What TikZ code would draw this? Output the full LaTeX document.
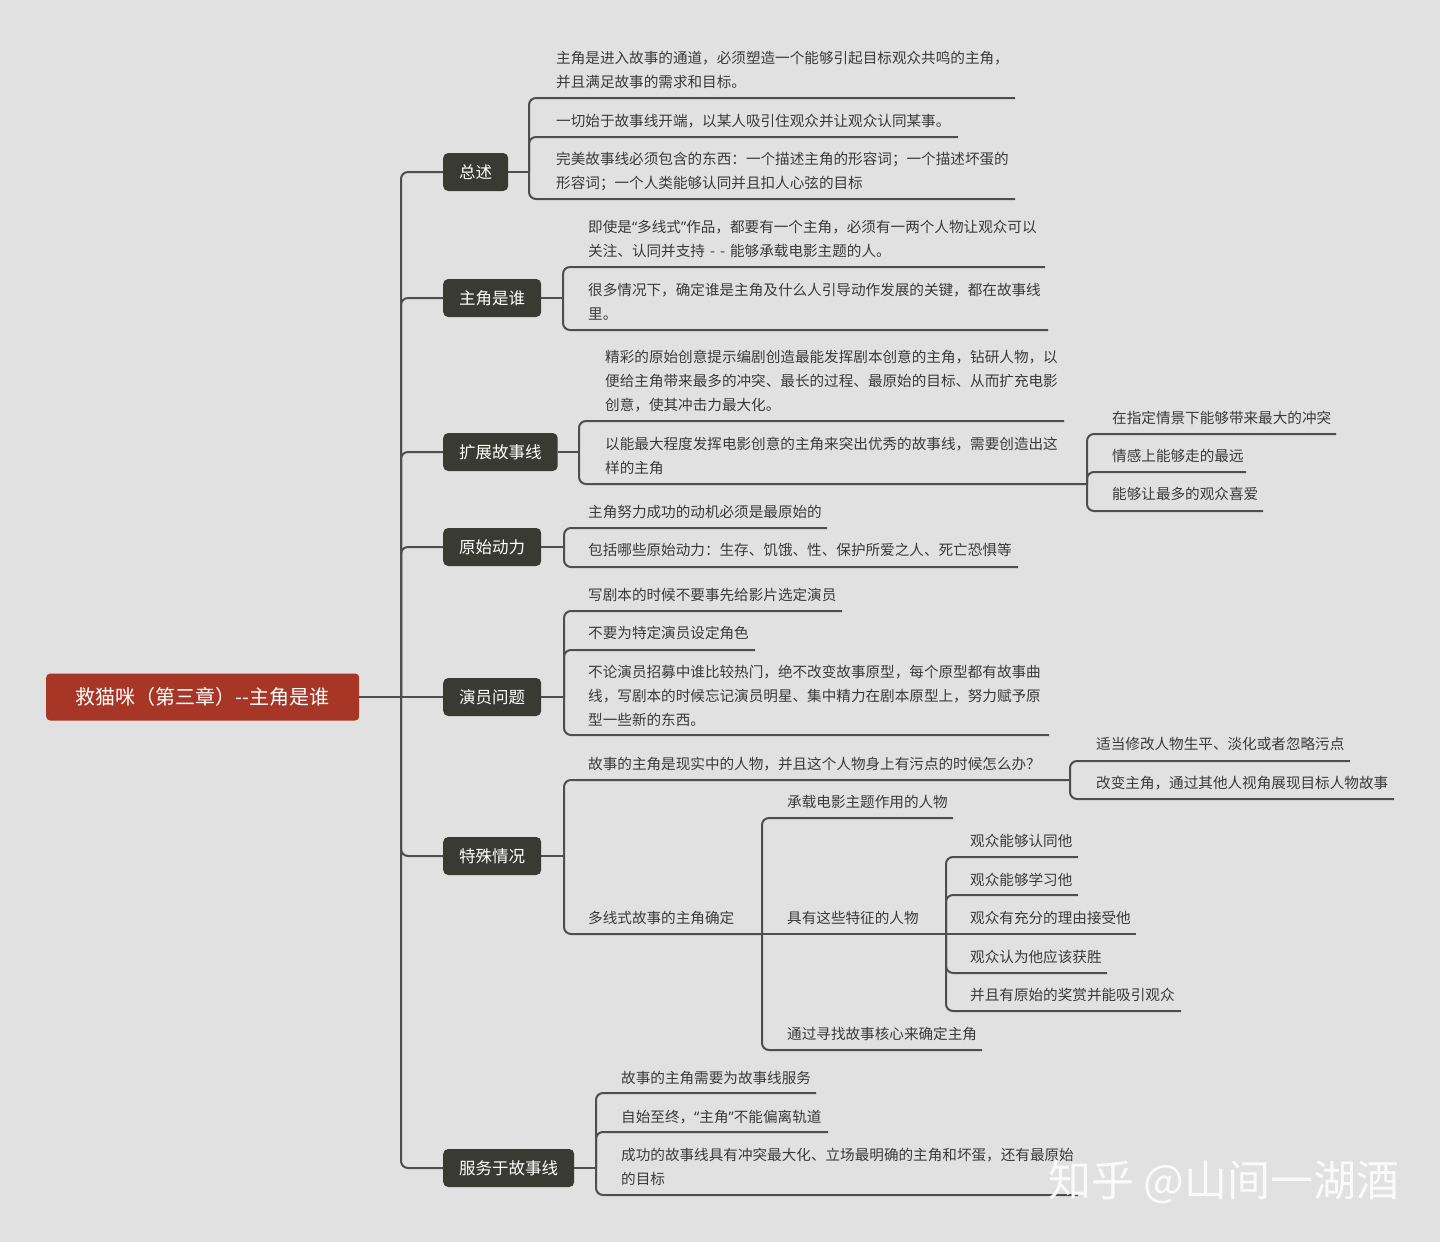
\documentclass[tikz,border=0pt]{standalone}
\usepackage{fontspec}
\setmainfont{Noto Sans CJK SC}
\newfontfamily\quotefont{Noto Sans}
\definecolor{bgcolor}{RGB}{225,225,225}
\definecolor{rootcolor}{RGB}{167,54,39}
\definecolor{boxcolor}{RGB}{58,58,52}
\definecolor{wirecolor}{RGB}{78,78,78}
\definecolor{inkcolor}{RGB}{58,58,58}
\definecolor{wmcolor}{RGB}{250,250,250}

\begin{document}
\begin{tikzpicture}[x=1pt,y=-1pt,
	wire/.style={draw=wirecolor,line width=2pt,rounded corners=7pt},
	root/.style={fill=rootcolor,text=white,rounded corners=4pt,anchor=west,minimum width=313pt,minimum height=47pt,font=\fontsize{20}{24}\selectfont},
	branch/.style={fill=boxcolor,text=white,rounded corners=5pt,anchor=west,inner xsep=16pt,minimum height=38pt,font=\fontsize{16.5}{20}\selectfont},
	leaf/.style={text=inkcolor,anchor=west,align=left,inner sep=0pt,font=\fontsize{14.6}{24}\selectfont},
	wmtext/.style={anchor=west,inner sep=0pt,font=\fontsize{43}{43}\selectfont}]

	\fill[bgcolor] (0,0) rectangle (1440,1242);

	\node[root] (root) at (46,697) {救猫咪（第三章）-{}-主角是谁};

	\node[branch] (zongshu) at (443,172) {总述};
	\node[branch] (zhujiao) at (443,298) {主角是谁};
	\node[branch] (kuozhan) at (443,452) {扩展故事线};
	\node[branch] (dongli) at (443,547) {原始动力};
	\node[branch] (yanyuan) at (443,697) {演员问题};
	\node[branch] (teshu) at (443,856) {特殊情况};
	\node[branch] (fuwu) at (443,1168) {服务于故事线};

	\coordinate (hub) at (401,697);
	\draw[wire] (root.east) -- (hub);
	\draw[wire] (hub) |- (zongshu.west);
	\draw[wire] (hub) |- (zhujiao.west);
	\draw[wire] (hub) |- (kuozhan.west);
	\draw[wire] (hub) |- (dongli.west);
	\draw[wire] (hub) -- (yanyuan.west);
	\draw[wire] (hub) |- (teshu.west);
	\draw[wire] (hub) |- (fuwu.west);

	\coordinate (j1) at (529,172);
	\coordinate (j2) at (563,298);
	\coordinate (j3) at (579,452);
	\coordinate (j4) at (564,547);
	\coordinate (j5) at (564,697);
	\coordinate (j6) at (564,856);
	\coordinate (j7) at (596,1168);
	\coordinate (s3) at (1087,484);
	\coordinate (s6a) at (1070,780);
	\coordinate (s6b) at (762,934);
	\coordinate (s6c) at (946,934);

	\coordinate (ua1) at (1015,98);
	\coordinate (ua2) at (958,137);
	\coordinate (ua3) at (1015,199);
	\coordinate (ub1) at (1045,267);
	\coordinate (ub2) at (1048,330);
	\coordinate (uc1) at (1064,421);
	\coordinate (ud1) at (1336,434);
	\coordinate (ud2) at (1246,472);
	\coordinate (ud3) at (1263,511);
	\coordinate (ue1) at (827,528);
	\coordinate (ue2) at (1018,567);
	\coordinate (uf1) at (842,611);
	\coordinate (uf2) at (755,650);
	\coordinate (uf3) at (1049,735);
	\coordinate (uh1) at (1350,761);
	\coordinate (uh2) at (1394,799);
	\coordinate (ui1) at (953,818);
	\coordinate (ui3) at (982,1050);
	\coordinate (uj1) at (1078,857);
	\coordinate (uj2) at (1078,895);
	\coordinate (uj3) at (1136,934);
	\coordinate (uj4) at (1107,973);
	\coordinate (uj5) at (1181,1011);
	\coordinate (uk1) at (816,1093);
	\coordinate (uk2) at (828,1132);
	\coordinate (uk3) at (1078,1195);

	\draw[wire] (zongshu.east) -- (j1);
	\draw[wire] (j1) |- (ua1);
	\draw[wire] (j1) |- (ua2);
	\draw[wire] (j1) |- (ua3);

	\draw[wire] (zhujiao.east) -- (j2);
	\draw[wire] (j2) |- (ub1);
	\draw[wire] (j2) |- (ub2);

	\draw[wire] (kuozhan.east) -- (j3);
	\draw[wire] (j3) |- (uc1);
	\draw[wire] (j3) |- (s3);
	\draw[wire] (s3) |- (ud1);
	\draw[wire] (s3) |- (ud2);
	\draw[wire] (s3) |- (ud3);

	\draw[wire] (dongli.east) -- (j4);
	\draw[wire] (j4) |- (ue1);
	\draw[wire] (j4) |- (ue2);

	\draw[wire] (yanyuan.east) -- (j5);
	\draw[wire] (j5) |- (uf1);
	\draw[wire] (j5) |- (uf2);
	\draw[wire] (j5) |- (uf3);

	\draw[wire] (teshu.east) -- (j6);
	\draw[wire] (j6) |- (s6a);
	\draw[wire] (s6a) |- (uh1);
	\draw[wire] (s6a) |- (uh2);
	\draw[wire] (j6) |- (s6b);
	\draw[wire] (s6b) |- (ui1);
	\draw[wire] (s6b) -- (s6c);
	\draw[wire] (s6b) |- (ui3);
	\draw[wire] (s6c) |- (uj1);
	\draw[wire] (s6c) |- (uj2);
	\draw[wire] (s6c) -- (uj3);
	\draw[wire] (s6c) |- (uj4);
	\draw[wire] (s6c) |- (uj5);

	\draw[wire] (fuwu.east) -- (j7);
	\draw[wire] (j7) |- (uk1);
	\draw[wire] (j7) |- (uk2);
	\draw[wire] (j7) |- (uk3);

	\node[leaf] (a1) at (556,70) {主角是进入故事的通道，必须塑造一个能够引起目标观众共鸣的主角，\\并且满足故事的需求和目标。};
	\node[leaf] (a2) at (556,121) {一切始于故事线开端，以某人吸引住观众并让观众认同某事。};
	\node[leaf] (a3) at (556,171) {完美故事线必须包含的东西：一个描述主角的形容词；一个描述坏蛋的\\形容词；一个人类能够认同并且扣人心弦的目标};

	\node[leaf] (b1) at (588,239) {即使是{\quotefont “}多线式{\quotefont ”}作品，都要有一个主角，必须有一两个人物让观众可以\\关注、认同并支持\hspace{5pt}-\hspace{5pt}-\hspace{5pt}能够承载电影主题的人。};
	\node[leaf] (b2) at (588,302) {很多情况下，确定谁是主角及什么人引导动作发展的关键，都在故事线\\里。};

	\node[leaf] (c1) at (605,381) {精彩的原始创意提示编剧创造最能发挥剧本创意的主角，钻研人物，以\\便给主角带来最多的冲突、最长的过程、最原始的目标、从而扩充电影\\创意，使其冲击力最大化。};
	\node[leaf] (c2) at (605,456) {以能最大程度发挥电影创意的主角来突出优秀的故事线，需要创造出这\\样的主角};
	\node[leaf] (d1) at (1112,418) {在指定情景下能够带来最大的冲突};
	\node[leaf] (d2) at (1112,456) {情感上能够走的最远};
	\node[leaf] (d3) at (1112,494) {能够让最多的观众喜爱};

	\node[leaf] (e1) at (588,512) {主角努力成功的动机必须是最原始的};
	\node[leaf] (e2) at (588,550) {包括哪些原始动力：生存、饥饿、性、保护所爱之人、死亡恐惧等};

	\node[leaf] (f1) at (588,595) {写剧本的时候不要事先给影片选定演员};
	\node[leaf] (f2) at (588,633) {不要为特定演员设定角色};
	\node[leaf] (f3) at (588,696) {不论演员招募中谁比较热门，绝不改变故事原型，每个原型都有故事曲\\线，写剧本的时候忘记演员明星、集中精力在剧本原型上，努力赋予原\\型一些新的东西。};

	\node[leaf] (g1) at (588,764) {故事的主角是现实中的人物，并且这个人物身上有污点的时候怎么办？};
	\node[leaf] (h1) at (1096,744) {适当修改人物生平、淡化或者忽略污点};
	\node[leaf] (h2) at (1096,783) {改变主角，通过其他人视角展现目标人物故事};
	\node[leaf] (g2) at (588,918) {多线式故事的主角确定};
	\node[leaf] (i1) at (787,802) {承载电影主题作用的人物};
	\node[leaf] (i2) at (787,918) {具有这些特征的人物};
	\node[leaf] (i3) at (787,1034) {通过寻找故事核心来确定主角};
	\node[leaf] (k1j) at (970,841) {观众能够认同他};
	\node[leaf] (k2j) at (970,880) {观众能够学习他};
	\node[leaf] (k3j) at (970,918) {观众有充分的理由接受他};
	\node[leaf] (k4j) at (970,957) {观众认为他应该获胜};
	\node[leaf] (k5j) at (970,995) {并且有原始的奖赏并能吸引观众};

	\node[leaf] (k1) at (621,1078) {故事的主角需要为故事线服务};
	\node[leaf] (k2) at (621,1117) {自始至终，{\quotefont “}主角{\quotefont ”}不能偏离轨道};
	\node[leaf] (k3) at (621,1167) {成功的故事线具有冲突最大化、立场最明确的主角和坏蛋，还有最原始\\的目标};

	\node[wmtext,text=wmcolor] (wm) at (1048,1182) {知乎 @山间一湖酒};

\end{tikzpicture}
\end{document}
